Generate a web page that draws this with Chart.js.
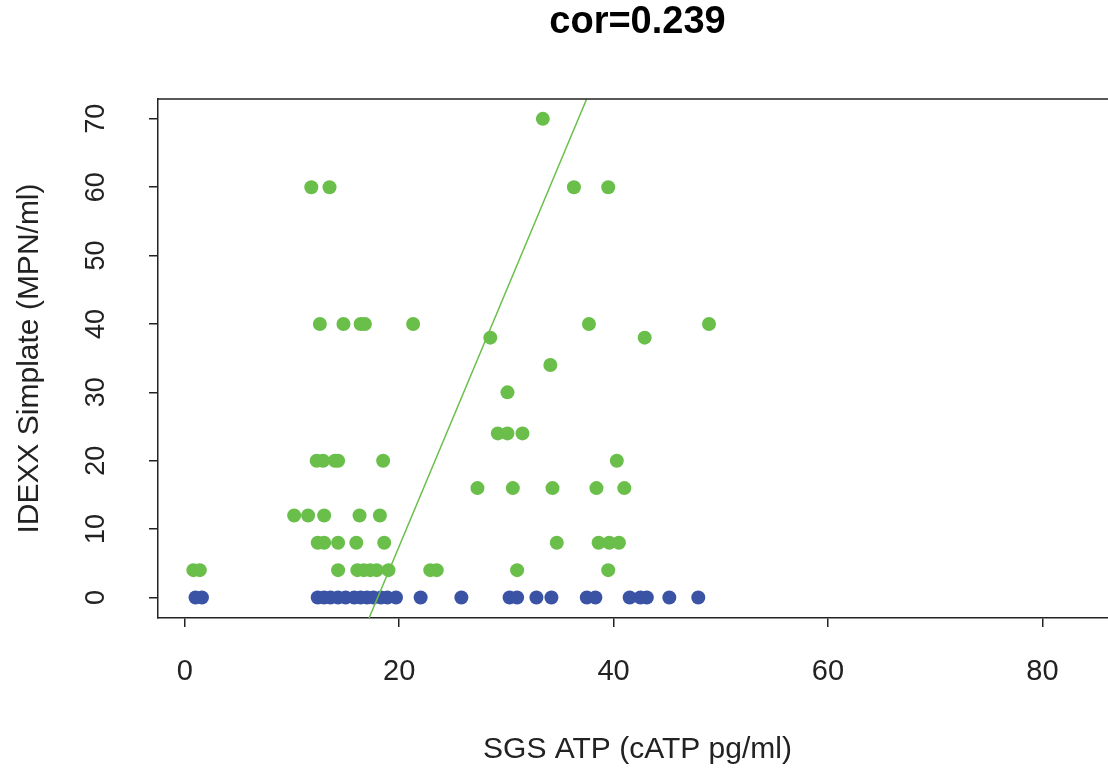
<!DOCTYPE html>
<html>
<head>
<meta charset="utf-8">
<script src="https://cdn.jsdelivr.net/npm/chart.js@4"></script>
<style>
  html, body { margin: 0; background: #fff; overflow: hidden; }
  #box { width: 1117px; height: 773px; }
</style>
</head>
<body>
<div id="box"><canvas id="graficoCor"></canvas></div>
<script>
// valores
const tituloGrafico = 'cor=0.239'
const tituloX = 'SGS ATP (cATP pg/ml)'
const tituloY = 'IDEXX Simplate (MPN/ml)'
const ticksX = [0, 20, 40, 60, 80]
const ticksY = [0, 10, 20, 30, 40, 50, 60, 70]

// pontos com IDEXX = 0 (azul)
const azulX = [1.0, 1.6, 12.4, 13.0, 13.6, 14.3, 15.0, 15.8, 16.4, 17.0, 17.6, 18.3, 18.9, 19.7,
    22.0, 25.8, 30.3, 31.0, 32.8, 34.2, 37.5, 38.3, 41.5, 42.5, 43.1, 45.2, 47.9]
const azulY = azulX.map(() => 0)

// pontos com IDEXX > 0 (verde)
const verdeX = [0.8, 1.4, 14.3, 16.1, 16.7, 17.3, 17.9, 19.0, 22.9, 23.5, 31.0, 39.5,
    12.4, 13.0, 14.3, 16.0, 18.6, 34.7, 38.6, 39.6, 40.5,
    10.2, 11.5, 13.0, 16.3, 18.2,
    27.3, 30.6, 34.3, 38.4, 41.0,
    12.3, 12.9, 14.0, 14.3, 18.5, 40.3,
    29.2, 30.1, 31.5,
    30.1,
    34.1,
    28.5, 42.9,
    12.6, 14.8, 16.4, 16.8, 21.3, 37.7, 48.9,
    11.8, 13.5, 36.3, 39.5,
    33.4]
const verdeY = [4, 4, 4, 4, 4, 4, 4, 4, 4, 4, 4, 4,
    8, 8, 8, 8, 8, 8, 8, 8, 8,
    12, 12, 12, 12, 12,
    16, 16, 16, 16, 16,
    20, 20, 20, 20, 20, 20,
    24, 24, 24,
    30,
    34,
    38, 38,
    40, 40, 40, 40, 40, 40, 40,
    60, 60, 60, 60,
    70]

// reta ajustada (IDEXX = a + b * ATP)
const retaIntercepto = -67.3
const retaInclinacao = 3.74

const limiteX = { min: -2.5, max: 86.96 }
const limiteY = { min: -3.0, max: 72.9 }

const corVerde = '#6abf4a'
const corAzul = '#3a53a4'
const corEixo = '#222222'

const chartAreaBorder = {
    id: 'chartAreaBorder',
    afterDraw(chart) {
        const { ctx, chartArea: { left, top, right, bottom } } = chart
        ctx.save()
        ctx.strokeStyle = corEixo
        ctx.lineWidth = 1.5
        ctx.beginPath()
        ctx.moveTo(left, top)
        ctx.lineTo(right, top)
        ctx.lineTo(right, bottom)
        ctx.stroke()
        ctx.restore()
    }
}

// título centrado sobre a área do gráfico, como no R
const tituloCentrado = {
    id: 'tituloCentrado',
    afterDraw(chart) {
        const { ctx, chartArea: { left, right } } = chart
        ctx.save()
        ctx.fillStyle = '#000'
        ctx.font = 'bold 38px "Liberation Sans", Arial, sans-serif'
        ctx.textAlign = 'center'
        ctx.textBaseline = 'middle'
        ctx.fillText(tituloGrafico, (left + right) / 2, 23)
        ctx.restore()
    }
}

// rótulos do eixo y na vertical, como no R
const rotulosYVerticais = {
    id: 'rotulosYVerticais',
    afterDraw(chart) {
        const { ctx } = chart
        const y = chart.scales.y
        ctx.save()
        ctx.fillStyle = corEixo
        ctx.font = '27px "Liberation Sans", Arial, sans-serif'
        ctx.textAlign = 'center'
        ctx.textBaseline = 'middle'
        ticksY.forEach(v => {
            ctx.save()
            ctx.translate(97, y.getPixelForValue(v))
            ctx.rotate(-Math.PI / 2)
            ctx.fillText(String(v), 0, 0)
            ctx.restore()
        })
        ctx.restore()
    }
}

function criarGraficoCor() {
    let pontosVerdes = verdeX.map((x, i) => ({ x: x, y: verdeY[i] }))
    let pontosAzuis = azulX.map((x, i) => ({ x: x, y: azulY[i] }))
    let xIni = (limiteY.min - retaIntercepto) / retaInclinacao
    let xFim = (limiteY.max - retaIntercepto) / retaInclinacao
    let reta = [xIni, xFim].map(x => ({ x: x, y: retaIntercepto + retaInclinacao * x }))

    new Chart(document.getElementById('graficoCor'), {
        type: 'scatter',
        data: {
            datasets: [
                {
                    type: 'line',
                    label: 'reta',
                    data: reta,
                    borderColor: corVerde,
                    borderWidth: 1.5,
                    pointRadius: 0,
                    fill: false
                },
                {
                    label: 'azul',
                    data: pontosAzuis,
                    backgroundColor: corAzul,
                    borderWidth: 0,
                    pointRadius: 7
                },
                {
                    label: 'verde',
                    data: pontosVerdes,
                    backgroundColor: corVerde,
                    borderWidth: 0,
                    pointRadius: 7
                }
            ]
        },
        options: {
            responsive: true,
            maintainAspectRatio: false,
            animation: false,
            layout: { padding: { top: 99, left: 0, right: 0, bottom: 0 }, autoPadding: false },
            plugins: {
                legend: { display: false },
                tooltip: { enabled: false },
                title: { display: false }
            },
            scales: {
                x: {
                    type: 'linear',
                    min: limiteX.min,
                    max: limiteX.max,
                    afterBuildTicks: scale => { scale.ticks = ticksX.map(v => ({ value: v })) },
                    afterFit: scale => { scale.height = 155 },
                    border: { color: corEixo, width: 1.5 },
                    grid: { drawOnChartArea: false, drawTicks: true, tickLength: 9, color: corEixo, lineWidth: 1.5 },
                    ticks: {
                        padding: 28,
                        color: corEixo,
                        maxRotation: 0,
                        font: { size: 29, family: '"Liberation Sans", Arial, sans-serif' }
                    },
                    title: {
                        display: true,
                        text: tituloX,
                        color: corEixo,
                        font: { size: 30, family: '"Liberation Sans", Arial, sans-serif' },
                        padding: { top: 0, bottom: 5 }
                    }
                },
                y: {
                    type: 'linear',
                    min: limiteY.min,
                    max: limiteY.max,
                    afterBuildTicks: scale => { scale.ticks = ticksY.map(v => ({ value: v })) },
                    afterFit: scale => { scale.width = 158 },
                    border: { color: corEixo, width: 1.5 },
                    grid: { drawOnChartArea: false, drawTicks: true, tickLength: 9, color: corEixo, lineWidth: 1.5 },
                    ticks: { display: false },
                    title: {
                        display: true,
                        text: tituloY,
                        color: corEixo,
                        font: { size: 30, family: '"Liberation Sans", Arial, sans-serif' },
                        padding: { top: 12, bottom: 0 }
                    }
                }
            }
        },
        plugins: [chartAreaBorder, tituloCentrado, rotulosYVerticais]
    })
}

criarGraficoCor()
</script>
</body>
</html>
